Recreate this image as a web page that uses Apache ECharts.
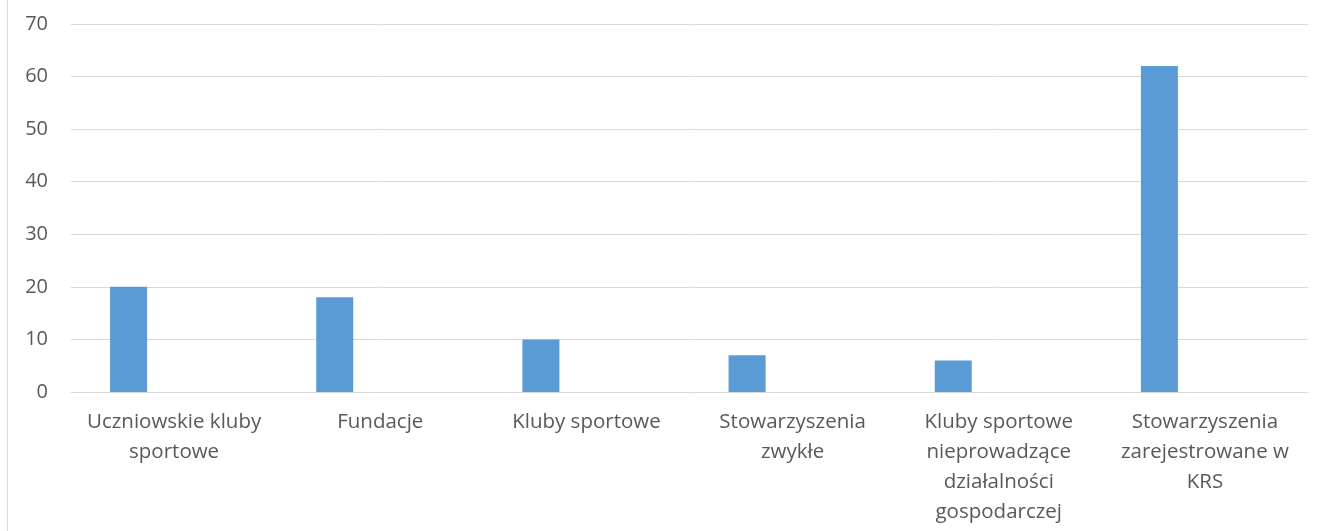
<!DOCTYPE html>
<html>
<head>
<meta charset="utf-8">
<script src="https://cdn.jsdelivr.net/npm/echarts@6/dist/echarts.min.js"></script>
<style>
  html, body { margin: 0; padding: 0; background: #fff; }
  #main { width: 1325px; height: 531px; }
  #frame { position: absolute; left: 7px; top: 0; width: 1px; height: 531px; background: #d9d9d9; }
</style>
</head>
<body>
<div id="frame"></div>
<div id="main"></div>
<script>
// kategorie (etykiety osi X)
const categories = [
  "Uczniowskie kluby\nsportowe",
  "Fundacje",
  "Kluby sportowe",
  "Stowarzyszenia\nzwykłe",
  "Kluby sportowe\nnieprowadzące\ndziałalności\ngospodarczej",
  "Stowarzyszenia\nzarejestrowane w\nKRS"
];
// wartości serii
const values = [20, 18, 10, 7, 6, 62];
// pusta druga seria (jak w Excelu)
const emptySeries = [null, null, null, null, null, null];

const myChart = echarts.init(document.getElementById("main"));
const font = "'Open Sans', 'Noto Sans', sans-serif";

const option = {
  animation: false,
  grid: { left: 71, right: 17, top: 24, bottom: 139 },
  xAxis: {
    type: "category",
    data: categories,
    axisLine: { lineStyle: { color: "#d9d9d9", width: 1 } },
    axisTick: { show: false },
    axisLabel: {
      interval: 0,
      margin: 15,
      color: "#595959",
      fontSize: 20.5,
      lineHeight: 30,
      fontFamily: font
    }
  },
  yAxis: {
    type: "value",
    min: 0,
    max: 70,
    interval: 10,
    axisLine: { show: false },
    axisTick: { show: false },
    splitLine: { lineStyle: { color: "#d9d9d9", width: 1 } },
    axisLabel: {
      margin: 23,
      color: "#595959",
      fontSize: 20,
      fontFamily: font
    }
  },
  series: [
    {
      type: "bar",
      data: values,
      barWidth: 37,
      barGap: "146%",
      itemStyle: { color: "#5b9bd5" }
    },
    {
      type: "bar",
      data: emptySeries,
      barWidth: 37,
      itemStyle: { color: "#ed7d31" }
    }
  ]
};

myChart.setOption(option);
</script>
</body>
</html>
